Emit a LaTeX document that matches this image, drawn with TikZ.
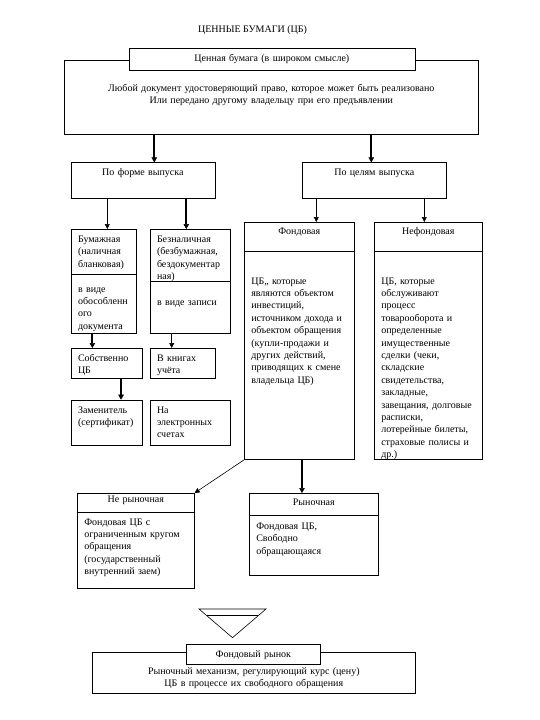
\documentclass[tikz,border=0pt]{standalone}
\usepackage{fontspec}
\setmainfont{Liberation Serif}
\usetikzlibrary{arrows.meta}

\tikzset{every picture/.style={line width=0.6pt}}

\begin{document}
\begin{tikzpicture}[x=1pt, y=-1pt,
    cell/.style={draw, fill=white, anchor=north west, inner xsep=7pt, inner ysep=0pt,
      align=left, text height=13pt, font=\fontsize{10}{12.4}\selectfont},
    head/.style={cell, align=center},
    thin arrow/.style={-{Triangle[length=5pt, width=5pt, line width=0.5pt]}, line width=0.6pt},
    thick arrow/.style={-{Triangle[length=5pt, width=5.5pt, line width=0.5pt]}, line width=2pt}]
    \useasboundingbox (0,0) rectangle (540,720);

    \node[font=\fontsize{10}{12.4}\selectfont] (title) at (252.5,30) {ЦЕННЫЕ БУМАГИ (ЦБ)};

    % definition
    \node[head, text width=400pt, text height=31pt, text depth=43pt] (defin) at (64,60)
        {Любой документ удостоверяющий право, которое может быть реализовано\\Или передано другому владельцу при его предъявлении};
    \node[head, text width=272pt, text depth=8.5pt] (broad) at (128.6,48) {Ценная бумага (в широком смысле)};

    % two ways of sorting
    \node[head, text width=129.8pt, text depth=22.2pt] (form) at (70.7,162.4) {По форме выпуска};
    \node[head, text width=130pt, text depth=22.2pt] (goal) at (302,162.4) {По целям выпуска};

    % by form
    \node[cell, text width=50.8pt, text depth=31.8pt] (paper) at (70.7,229) {Бумажная\\(наличная\\бланковая)};
    \node[cell, text width=50.8pt, text height=18pt, text depth=41.6pt] (paperdoc) at (70.7,273.8) {в виде\\обособленн\\ого\\документа};
    \node[cell, text width=66pt, text depth=38.7pt] (cashless) at (149.7,229) {Безналичная\\(безбумажная,\\бездокументар\\ная)};
    \node[cell, fill=none, text width=66pt, text height=24pt, text depth=28.7pt] (cashrec) at (149.7,280.7) {в виде записи};
    \node[cell, text width=57.7pt, text depth=17pt] (own) at (70.7,348) {Собственно\\ЦБ};
    \node[cell, text width=50.8pt, text depth=17pt] (books) at (149.7,348) {В книгах\\учёта};
    \node[cell, text width=57.7pt, text depth=32.3pt] (subst) at (70.7,399.7) {Заменитель\\(сертификат)};
    \node[cell, text width=66pt, text depth=32.3pt] (elec) at (149.7,399.7) {На\\электронных\\счетах};

    % by goal
    \node[head, text width=96pt, text height=12pt, text depth=16.7pt] (stock) at (244,222) {Фондовая};
    \node[cell, text width=96pt, text height=33pt, text depth=175.6pt] (stockdef) at (244,250.7)
        {ЦБ,, которые\\являются объектом\\инвестиций,\\источником дохода и\\объектом обращения\\(купли-продажи и\\других действий,\\приводящих к смене\\владельца ЦБ)};
    \node[head, text width=94pt, text height=12pt, text depth=16.7pt] (nonstock) at (374,222) {Нефондовая};
    \node[cell, text width=94pt, text height=33pt, text depth=175.6pt] (nonstockdef) at (374,250.7)
        {ЦБ, которые\\обслуживают\\процесс\\товарооборота и\\определенные\\имущественные\\сделки (чеки,\\складские\\свидетельства,\\закладные,\\завещания, долговые\\расписки,\\лотерейные билеты,\\страховые полисы и\\др.)};

    % stock papers
    \node[head, text width=103pt, text height=9pt, text depth=9.7pt] (nonmkt) at (77,493) {Не рыночная};
    \node[cell, text width=103pt, text depth=63.3pt] (nonmktdef) at (77,511.7)
        {Фондовая ЦБ с\\ограниченным кругом\\обращения\\(государственный\\внутренний заем)};
    \node[head, text width=115pt, text height=12pt, text depth=10pt] (mkt) at (249,493) {Рыночная};
    \node[cell, text width=115pt, text height=14pt, text depth=46pt] (mktdef) at (249,515)
        {Фондовая ЦБ,\\Свободно\\обращающаяся};

    % stock market
    \draw (199,609) -- (266,609) -- (232.5,637.7) -- cycle;
    \draw (206.8,615.7) -- (258.2,615.7);
    \node[head, text width=309pt, text height=22pt, text depth=19.3pt] (marketdef) at (92,651.7)
        {Рыночный механизм, регулирующий курс (цену)\\ЦБ в процессе их свободного обращения};
    \node[head, text width=120pt, text depth=7pt] (market) at (186,644) {Фондовый рынок};

    \draw[thick arrow] ([xshift=11.4pt]form.north |- defin.south) -- ([xshift=11.4pt]form.north);
    \draw[thick arrow] ([xshift=-3pt]goal.north |- defin.south) -- ([xshift=-3pt]goal.north);
    \draw[thin arrow] ([xshift=3.9pt]paper.north |- form.south) -- ([xshift=3.9pt]paper.north);
    \draw[thick arrow] ([xshift=-3.7pt]cashless.north |- form.south) -- ([xshift=-3.7pt]cashless.north);
    \draw[thin arrow] ([xshift=17pt]stock.north |- goal.south) -- ([xshift=17pt]stock.north);
    \draw[thin arrow] ([xshift=-4pt]nonstock.north |- goal.south) -- ([xshift=-4pt]nonstock.north);
    \draw[thick arrow] ([xshift=-14.5pt]own.north |- paperdoc.south) -- ([xshift=-14.5pt]own.north);
    \draw[thin arrow] ([xshift=-10.7pt]books.north |- cashrec.south) -- ([xshift=-10.7pt]books.north);
    \draw[thick arrow] ([xshift=14.2pt]subst.north |- own.south) -- ([xshift=14.2pt]subst.north);
    \draw[thick arrow] ([xshift=-11.8pt]mkt.north |- stockdef.south) -- ([xshift=-11.8pt]mkt.north);
    \draw[thin arrow] (stockdef.south west) -- (nonmkt.north east);
\end{tikzpicture}
\end{document}
